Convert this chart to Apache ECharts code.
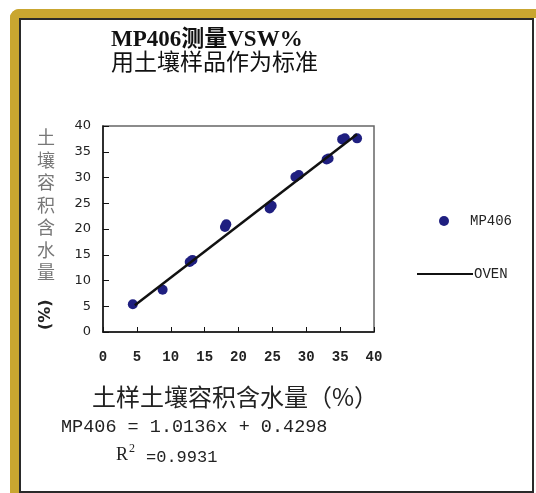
<!DOCTYPE html>
<html><head><meta charset="utf-8">
<script src="https://cdn.jsdelivr.net/npm/echarts@6/dist/echarts.min.js"></script>
<style>
html,body{margin:0;padding:0;background:#fff;width:536px;height:493px;overflow:hidden;}
#gold{position:absolute;left:10px;top:9px;width:540px;height:500px;border-top:9px solid #c9a630;border-left:9px solid #c9a630;border-top-left-radius:9px;box-sizing:border-box;}
#inner{position:absolute;left:19px;top:18px;width:515px;height:475px;border:2px solid #2a2a2a;box-sizing:border-box;background:#fff;}
#chart{position:absolute;left:0;top:0;width:536px;height:493px;}
</style></head>
<body>
<div id="gold"></div>
<div id="inner"></div>
<div id="chart"></div>
<script>
var titleLine1 = 'MP406测量VSW%';
var titleLine2 = '用土壤样品作为标准';
var yAxisName = ['土','壤','容','积','含','水','量'];
var xAxisName = '土样土壤容积含水量（%）';
var equationText = 'MP406 = 1.0136x + 0.4298';
var r2Value = '=0.9931';
var seriesNames = ['MP406', 'OVEN'];
var mpX = [4.4, 8.8, 12.8, 13.2, 18.0, 18.2, 24.6, 24.9, 28.4, 28.9, 33.0, 33.3, 35.3, 35.7, 37.5];
var mpY = [5.4, 8.2, 13.6, 14.0, 20.4, 20.9, 24.0, 24.5, 30.1, 30.5, 33.5, 33.7, 37.4, 37.6, 37.6];
var ovenX = [4.7, 37.5];
var ovenY = [5.2, 38.4];

var chart = echarts.init(document.getElementById('chart'));
var mpData = mpX.map(function(x,i){return [x, mpY[i]];});
var ovenData = ovenX.map(function(x,i){return [x, ovenY[i]];});

var graphics = [
  {type:'text', left:111, top:29, style:{text:titleLine1, font:'bold 23px "Liberation Serif", "Noto Sans CJK SC"', fill:'#111'}},
  {type:'text', left:111, top:52, style:{text:titleLine2, font:'23px "Liberation Serif", "Noto Sans CJK SC"', fill:'#111'}},
  {type:'text', left:37, top:126, style:{text:yAxisName.join('\n'), font:'18px "Noto Sans CJK SC"', lineHeight:22.5, fill:'#777'}},
  {type:'text', x:38, y:330, rotation:Math.PI/2, style:{text:'(%)', font:'bold 16px "DejaVu Sans"', fill:'#222'}},
  {type:'text', left:92, top:385, style:{text:xAxisName, font:'24px "Noto Sans CJK SC"', fill:'#222'}},
  {type:'text', left:61, top:418, style:{text:equationText, font:'18.5px "Liberation Mono"', fill:'#222'}},
  {type:'text', left:116, top:446, style:{text:'R', font:'18px "Liberation Serif"', fill:'#222'}},
  {type:'text', left:129, top:443, style:{text:'2', font:'12px "Liberation Serif"', fill:'#222'}},
  {type:'text', left:146, top:449, style:{text:r2Value, font:'17px "Liberation Mono"', fill:'#222'}}
];

chart.setOption({
  animation:false,
  grid:{left:103, top:126, right:162, bottom:161, show:true, borderColor:'#666', borderWidth:1.5},
  xAxis:{type:'value', min:0, max:40, interval:5,
    axisLine:{show:true, onZero:false, lineStyle:{color:'#111', width:1.5}},
    axisTick:{show:true, inside:true, length:5, lineStyle:{color:'#111'}},
    splitLine:{show:false},
    axisLabel:{margin:18, fontFamily:'Liberation Mono', fontSize:14, fontWeight:'bold', color:'#222'}},
  yAxis:{type:'value', min:0, max:40, interval:5,
    axisLine:{show:true, onZero:false, lineStyle:{color:'#111', width:1.5}},
    axisTick:{show:true, inside:true, length:6, lineStyle:{color:'#111'}},
    splitLine:{show:false},
    axisLabel:{margin:12, fontFamily:'DejaVu Sans', fontSize:13, color:'#222'}},
  legend:[
    {data:[seriesNames[0]], left:434, top:209, icon:'circle', itemWidth:10, itemHeight:10,
     textStyle:{fontFamily:'Liberation Mono', fontSize:14, color:'#222', padding:[0,0,0,16]}},
    {data:[seriesNames[1]], left:412, top:262, icon:'rect', itemWidth:56, itemHeight:2, itemGap:0,
     textStyle:{fontFamily:'Liberation Mono', fontSize:14, color:'#222', padding:[0,0,0,-4]}}
  ],
  series:[
    {name:seriesNames[0], type:'scatter', data:mpData, symbol:'circle', symbolSize:10, itemStyle:{color:'#1f1f80', opacity:1}, z:3},
    {name:seriesNames[1], type:'line', data:ovenData, symbol:'none', lineStyle:{color:'#111', width:2.5}, itemStyle:{color:'#111'}, z:4}
  ],
  graphic:graphics
});
</script>
</body></html>
